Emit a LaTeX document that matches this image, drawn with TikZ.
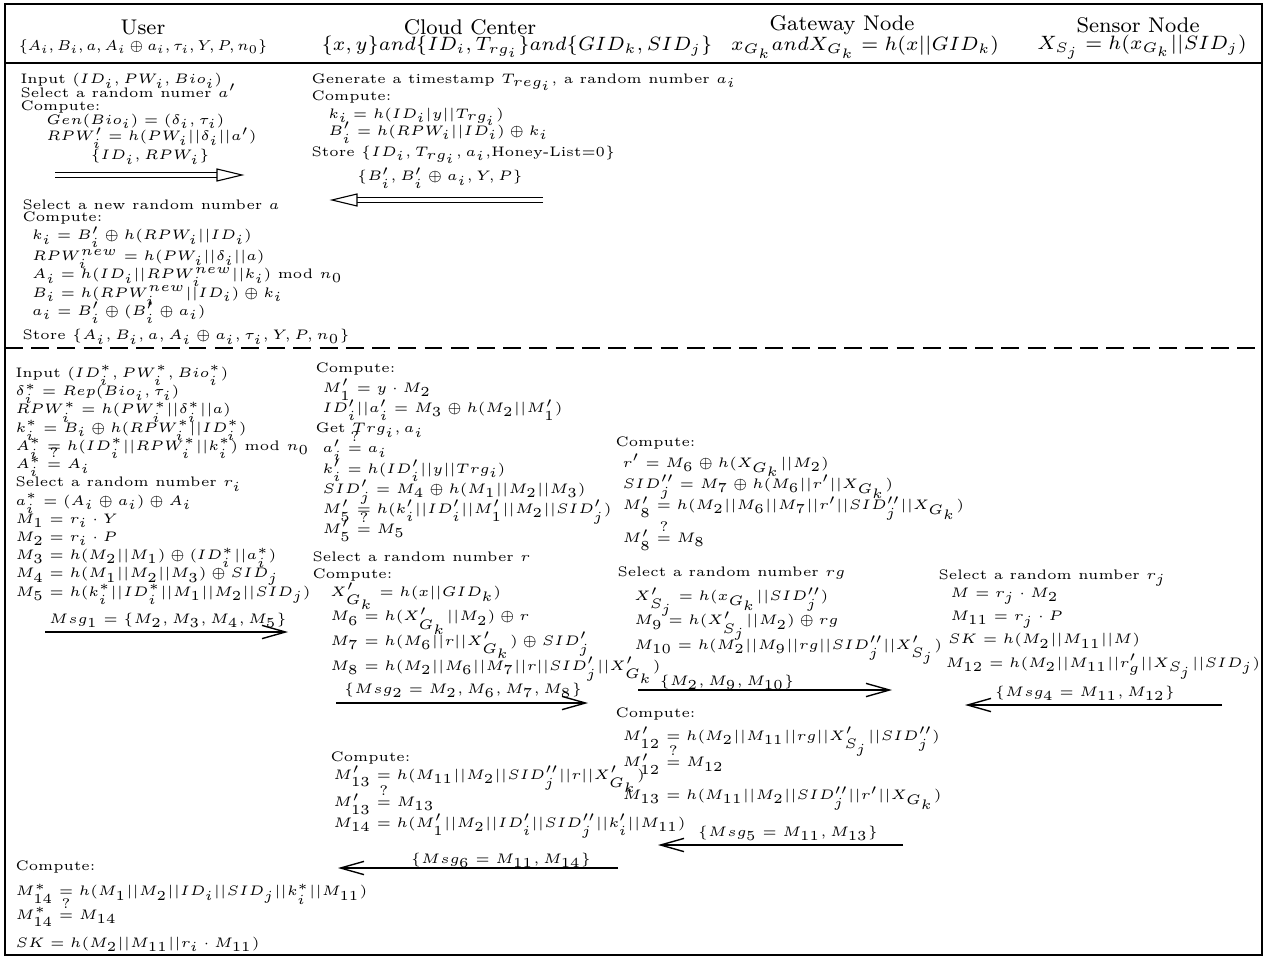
\documentclass[tikz,border=0pt]{standalone}
\usetikzlibrary{arrows.meta,calc}
\lineskiplimit=-100pt

\tikzset{
  headtitle/.style={font=\fontsize{7.7}{9}\selectfont, inner sep=0pt},
  headkeys/.style={font=\fontsize{7}{8}\selectfont, inner sep=0pt},
  txtblock/.style={anchor=north west, inner sep=0pt, align=left, font=\fontsize{5}{#1}\selectfont},
  txtblock/.default=6.6pt,
  msglabel/.style={font=\fontsize{5}{6}\selectfont, inner sep=0pt},
  msgarrow/.style={-{Straight Barb[length=8.5pt,width=4.8pt]}, line width=0.5pt},
  regarrow/.style={double, double distance=1.1pt, line width=0.4pt},
  reghead/.style={draw, fill=white, line width=0.4pt}
}

\begin{document}
\begin{tikzpicture}[x=0.3623pt, y=-0.3623pt]
\useasboundingbox (0,0) rectangle (1266,958);

% frame, header and phase separator
\draw[line width=0.9pt] (5,4) rectangle (1262,955);
\draw[line width=1.05pt] (5,63) -- (1262,63);
\draw[line width=0.55pt, dash pattern=on 6.5pt off 3pt] (5,348) -- (1262,348);

\node[headtitle] (user) at (143,27) {User};
\node[headkeys] (userkeys) at (143,47) {\scalebox{0.866}{\fontsize{6}{7}\selectfont $\{A_i, B_i, a, A_i \oplus a_i, \tau_i, Y, P, n_0\}$}};
\node[headtitle] (cloud) at (470,27) {Cloud Center};
\node[headkeys] (cloudkeys) at (517,47) {$\{x, y\} and \{ID_i, T_{rg_i}\} and \{GID_k, SID_j\}$};
\node[headtitle] (gateway) at (842,25) {Gateway Node};
\node[headkeys] (gatewaykeys) at (865,47) {$x_{G_k} and X_{G_k} = h(x||GID_k)$};
\node[headtitle] (sensor) at (1138,25) {Sensor Node};
\node[headkeys] (sensorkeys) at (1142,47) {$X_{S_j} = h(x_{G_k}||SID_j)$};

% registration
\node[txtblock=4.9pt] (reguser) at (20,73) {
Input $(ID_i, PW_i, Bio_i)$\\
Select a random numer $a'$\\
Compute:\\
\hspace*{9.4pt}$Gen(Bio_i) = (\delta_i, \tau_i)$\\[1pt]
\hspace*{9.4pt}$RPW'_i = h(PW_i||\delta_i||a')$};
\node[msglabel] (regmsg1) at (150,157) {$\{ID_i, RPW_i\}$};
\coordinate (reg1from) at (55,175);
\coordinate (reg1to) at (242,175);
\draw[regarrow] (reg1from) -- ($(reg1to)+(-25,0)$);
\draw[reghead] (reg1to) -- ++(-25,-6) -- ++(0,12) -- cycle;

\node[txtblock=6.3pt] (regcloud) at (311,73) {
Generate a timestamp $T_{reg_i}$, a random number $a_i$\\
Compute:\\
\hspace*{6.1pt}$k_i = h(ID_i|y||T_{rg_i})$\\
\hspace*{6.1pt}$B'_i = h(RPW_i||ID_i) \oplus k_i$\\[1.3pt]
Store $\{ID_i, T_{rg_i}, a_i,$Honey-List=0$\}$};
\node[msglabel] (regmsg2) at (440,178) {$\{B'_i, B'_i \oplus a_i, Y, P\}$};
\coordinate (reg2from) at (543,200);
\coordinate (reg2to) at (332,200);
\draw[regarrow] (reg2from) -- ($(reg2to)+(25,0)$);
\draw[reghead] (reg2to) -- ++(25,-6) -- ++(0,12) -- cycle;

\node[txtblock=6.6pt] (regstore) at (22,199) {
Select a new random number $a$\\[-2.1pt]
Compute:\\
\hspace*{3.5pt}$k_i = B'_i \oplus h(RPW_i||ID_i)$\\[0.9pt]
\hspace*{3.5pt}$RPW^{new}_i = h(PW_i||\delta_i||a)$\\
\hspace*{3.5pt}$A_i = h(ID_i||RPW^{new}_i||k_i)$ mod $n_0$\\
\hspace*{3.5pt}$B_i = h(RPW^{new}_i||ID_i) \oplus k_i$\\
\hspace*{3.5pt}$a_i = B'_i \oplus (B'_i \oplus a_i)$\\[2.2pt]
Store $\{A_i, B_i, a, A_i \oplus a_i, \tau_i, Y, P, n_0\}$};

% login and authentication
\node[txtblock=6.6pt] (loguser) at (15,365) {
Input $(ID^*_i, PW^*_i, Bio^*_i)$\\
$\delta^*_i = Rep(Bio_i, \tau_i)$\\
$RPW^*_i = h(PW^*_i||\delta^*_i||a)$\\
$k^*_i = B_i \oplus h(RPW^*_i||ID^*_i)$\\
$A^*_i = h(ID^*_i||RPW^*_i||k^*_i)$ mod $n_0$\\
$A^*_i \stackrel{?}{=} A_i$\\
Select a random number $r_i$\\
$a^*_i = (A_i \oplus a_i) \oplus A_i$\\
$M_1 = r_i \cdot Y$\\
$M_2 = r_i \cdot P$\\
$M_3 = h(M_2||M_1) \oplus (ID^*_i||a^*_i)$\\
$M_4 = h(M_1||M_2||M_3) \oplus SID_j$\\
$M_5 = h(k^*_i||ID^*_i||M_1||M_2||SID_j)$};
\node[msglabel] (msg1) at (168,620) {$Msg_1 = \{M_2, M_3, M_4, M_5\}$};
\coordinate (msg1from) at (45,632);
\coordinate (msg1to) at (288,632);
\draw[msgarrow] (msg1from) -- (msg1to);

\node[txtblock=7.3pt] (logcloud) at (315,362) {
Compute:\\
\hspace*{2.6pt}$M'_1 = y \cdot M_2$\\
\hspace*{2.6pt}$ID'_i||a'_i = M_3 \oplus h(M_2||M'_1)$\\
Get $Trg_i, a_i$\\
\hspace*{2.6pt}$a'_i \stackrel{?}{=} a_i$\\
\hspace*{2.6pt}$k'_i = h(ID'_i||y||Trg_i)$\\
\hspace*{2.6pt}$SID'_j = M_4 \oplus h(M_1||M_2||M_3)$\\
\hspace*{2.6pt}$M'_5 = h(k'_i||ID'_i||M'_1||M_2||SID'_j)$\\
\hspace*{2.6pt}$M'_5 \stackrel{?}{=} M_5$};

\node[txtblock=8.9pt] (logcloudb) at (312,551) {
Select a random number $r$\\[-2.7pt]
Compute:\\[-2.4pt]
\hspace*{6.5pt}$X'_{G_k} = h(x||GID_k)$\\
\hspace*{6.5pt}$M_6 = h(X'_{G_k}||M_2) \oplus r$\\
\hspace*{6.5pt}$M_7 = h(M_6||r||X'_{G_k}) \oplus SID'_j$\\
\hspace*{6.5pt}$M_8 = h(M_2||M_6||M_7||r||SID'_j||X'_{G_k})$};
\node[msglabel] (msg2) at (463,690) {$\{Msg_2 = M_2, M_6, M_7, M_8\}$};
\coordinate (msg2from) at (336,703);
\coordinate (msg2to) at (588,703);
\draw[msgarrow] (msg2from) -- (msg2to);

\node[txtblock=7.65pt] (loggate) at (615,436) {
Compute:\\
\hspace*{2.6pt}$r' = M_6 \oplus h(X_{G_k}||M_2)$\\
\hspace*{2.6pt}$SID''_j = M_7 \oplus h(M_6||r'||X_{G_k})$\\
\hspace*{2.6pt}$M'_8 = h(M_2||M_6||M_7||r'||SID''_j||X_{G_k})$\\[4.3pt]
\hspace*{2.6pt}$M'_8 \stackrel{?}{=} M_8$};

\node[txtblock=8.8pt] (loggateb) at (617,566) {
Select a random number $rg$\\
\hspace*{6.1pt}$X'_{S_j} = h(x_{G_k}||SID''_j)$\\
\hspace*{6.1pt}$M_9 = h(X'_{S_j}||M_2) \oplus rg$\\
\hspace*{6.1pt}$M_{10} = h(M_2||M_9||rg||SID''_j||X'_{S_j})$};
\node[msglabel] (msg3) at (727,682) {$\{M_2, M_9, M_{10}\}$};
\coordinate (msg3from) at (638,690);
\coordinate (msg3to) at (892,690);
\draw[msgarrow] (msg3from) -- (msg3to);

\node[txtblock=8.4pt] (logsensor) at (938,569) {
Select a random number $r_j$\\[-1.8pt]
\hspace*{4.3pt}$M = r_j \cdot M_2$\\
\hspace*{4.3pt}$M_{11} = r_j \cdot P$\\
\hspace*{3.5pt}$SK = h(M_2||M_{11}||M)$\\
\hspace*{2.6pt}$M_{12} = h(M_2||M_{11}||r'_g||X_{S_j}||SID_j)$};
\node[msglabel] (msg4) at (1085,693) {$\{Msg_4 = M_{11}, M_{12}\}$};
\coordinate (msg4from) at (1222,705);
\coordinate (msg4to) at (965,705);
\draw[msgarrow] (msg4from) -- (msg4to);

\node[txtblock=8.35pt] (loggatec) at (615,707) {
Compute:\\
\hspace*{2.6pt}$M'_{12} = h(M_2||M_{11}||rg||X'_{S_j}||SID''_j)$\\[1.3pt]
\hspace*{2.6pt}$M'_{12} \stackrel{?}{=} M_{12}$\\[3.5pt]
\hspace*{2.6pt}$M_{13} = h(M_{11}||M_2||SID''_j||r'||X_{G_k})$};
\node[msglabel] (msg5) at (788,833) {$\{Msg_5 = M_{11}, M_{13}\}$};
\coordinate (msg5from) at (903,845);
\coordinate (msg5to) at (658,845);
\draw[msgarrow] (msg5from) -- (msg5to);

\node[txtblock=7.4pt] (logcloudc) at (330,751) {
Compute:\\[-0.9pt]
\hspace*{1pt}$M'_{13} = h(M_{11}||M_2||SID''_j||r||X'_{G_k})$\\[2.6pt]
\hspace*{1pt}$M'_{13} \stackrel{?}{=} M_{13}$\\
\hspace*{1pt}$M_{14} = h(M'_1||M_2||ID'_i||SID''_j||k'_i||M_{11})$};
\node[msglabel] (msg6) at (501,860) {$\{Msg_6 = M_{11}, M_{14}\}$};
\coordinate (msg6from) at (618,868);
\coordinate (msg6to) at (338,868);
\draw[msgarrow] (msg6from) -- (msg6to);

\node[txtblock=9.3pt] (loguserb) at (15,860) {
Compute:\\
$M^*_{14} = h(M_1||M_2||ID_i||SID_j||k^*_i||M_{11})$\\[-0.9pt]
$M^*_{14} \stackrel{?}{=} M_{14}$\\[0.9pt]
$SK = h(M_2||M_{11}||r_i \cdot M_{11})$};

\end{tikzpicture}
\end{document}
